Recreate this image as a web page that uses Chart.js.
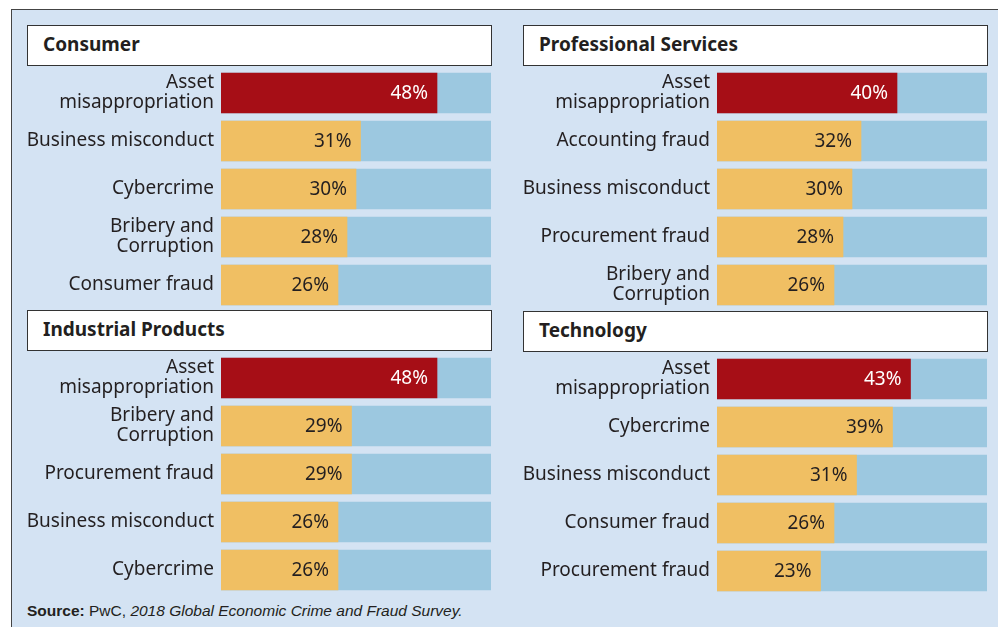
<!DOCTYPE html>
<html>
<head>
<meta charset="utf-8">
<script src="https://cdn.jsdelivr.net/npm/chart.js@4/dist/chart.umd.min.js"></script>
<style>
  body { margin: 0; background: #fff; width: 998px; height: 627px; overflow: hidden; position: relative; }
  #frame { position: absolute; left: 11px; top: 9px; width: 1000px; height: 700px;
           background: #d4e3f3; border-left: 1.5px solid #444; border-top: 1.5px solid #444; }
  .title { position: absolute; width: 465px; height: 41px; background: #fff; border: 1.5px solid #333;
           font: bold 19px "Noto Sans", sans-serif; color: #231f20; line-height: 36px;
           padding-left: 15px; box-sizing: border-box; }
  .panel { position: absolute; width: 464px; height: 240px; }
  #source { position: absolute; left: 27px; top: 602px; font: 15.5px "Liberation Sans Narrow", "Liberation Sans", sans-serif;
            color: #231f20; white-space: nowrap; line-height: 18px; }
</style>
</head>
<body>
<div id="frame"></div>

<div class="title" style="left:27px; top:25px;">Consumer</div>
<div class="title" style="left:523px; top:25px;">Professional Services</div>
<div class="title" style="left:27px; top:310px;">Industrial Products</div>
<div class="title" style="left:523px; top:311px;">Technology</div>

<div class="panel" style="left:27px; top:69px;"><canvas id="consumer" width="464" height="240"></canvas></div>
<div class="panel" style="left:523px; top:69px;"><canvas id="professional" width="464" height="240"></canvas></div>
<div class="panel" style="left:27px; top:354px;"><canvas id="industrial" width="464" height="240"></canvas></div>
<div class="panel" style="left:523px; top:355px;"><canvas id="technology" width="464" height="240"></canvas></div>

<div id="source"><b>Source:</b> PwC, <i>2018 Global Economic Crime and Fraud Survey.</i></div>

<script>
// ===== Data =====
const consumerLabels = [['Asset', 'misappropriation'], 'Business misconduct', 'Cybercrime', ['Bribery and', 'Corruption'], 'Consumer fraud'];
const consumerValues = [48, 31, 30, 28, 26];

const professionalLabels = [['Asset', 'misappropriation'], 'Accounting fraud', 'Business misconduct', 'Procurement fraud', ['Bribery and', 'Corruption']];
const professionalValues = [40, 32, 30, 28, 26];

const industrialLabels = [['Asset', 'misappropriation'], ['Bribery and', 'Corruption'], 'Procurement fraud', 'Business misconduct', 'Cybercrime'];
const industrialValues = [48, 29, 29, 26, 26];

const technologyLabels = [['Asset', 'misappropriation'], 'Cybercrime', 'Business misconduct', 'Consumer fraud', 'Procurement fraud'];
const technologyValues = [43, 39, 31, 26, 23];

// full length of the light blue track, in percent
const trackMax = 60;

const RED = '#a60e16';
const YELLOW = '#f0bf63';
const TRACK = '#9cc8e0';
const TEXT = '#231f20';

// draws the "48%" labels inside the end of each bar
const valueLabels = {
  id: 'valueLabels',
  afterDatasetsDraw(chart) {
    const ctx = chart.ctx;
    const meta = chart.getDatasetMeta(0);
    const values = chart.data.datasets[0].data;
    ctx.save();
    ctx.font = '19px "Noto Sans", sans-serif';
    ctx.textAlign = 'right';
    ctx.textBaseline = 'middle';
    meta.data.forEach((bar, i) => {
      ctx.fillStyle = i === 0 ? '#fff' : TEXT;
      ctx.fillText(values[i] + '%', bar.x - 9, bar.y + 1);
    });
    ctx.restore();
  }
};

function makeChart(id, labels, values) {
  const ctx = document.getElementById(id).getContext('2d');
  return new Chart(ctx, {
    type: 'bar',
    data: {
      labels: labels,
      datasets: [{
        data: values,
        backgroundColor: values.map((v, i) => i === 0 ? RED : YELLOW),
        barThickness: 40,
        grouped: false,
        order: 1
      }, {
        data: labels.map(() => trackMax),
        backgroundColor: TRACK,
        barThickness: 40,
        grouped: false,
        order: 2
      }]
    },
    options: {
      indexAxis: 'y',
      responsive: false,
      animation: false,
      layout: { padding: 0 },
      scales: {
        x: { display: false, min: 0, max: trackMax },
        y: {
          grid: { display: false, drawTicks: false },
          border: { display: false },
          ticks: {
            color: TEXT,
            padding: 7,
            font: { family: '"Noto Sans", sans-serif', size: 19, lineHeight: 1.05 }
          },
          afterFit(scale) {
            scale.width = 194;
            scale.paddingTop = 0;
            scale.paddingBottom = 0;
          }
        }
      },
      plugins: {
        legend: { display: false },
        tooltip: { enabled: false }
      }
    },
    plugins: [valueLabels]
  });
}

makeChart('consumer', consumerLabels, consumerValues);
makeChart('professional', professionalLabels, professionalValues);
makeChart('industrial', industrialLabels, industrialValues);
makeChart('technology', technologyLabels, technologyValues);
</script>
</body>
</html>
